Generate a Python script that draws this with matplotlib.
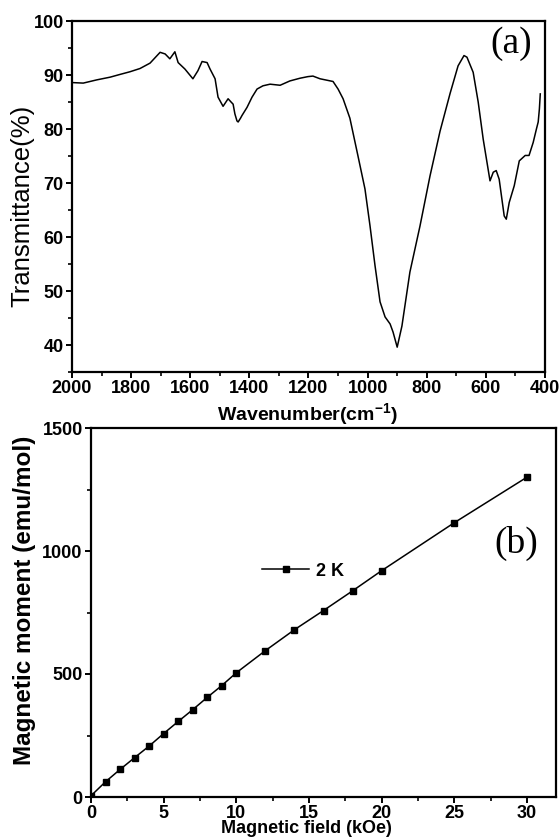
import matplotlib
matplotlib.use("Agg")
import matplotlib.pyplot as plt
from matplotlib.ticker import MultipleLocator

# ---- Panel (a): IR spectrum ----
wavenumber = [2000, 1962, 1916, 1871, 1838, 1804, 1770, 1736, 1702, 1685, 1669,
              1652, 1641, 1618, 1591, 1574, 1560, 1543, 1533, 1516, 1506, 1489,
              1472, 1462, 1455, 1449, 1442, 1438, 1430, 1425, 1408, 1391, 1374,
              1354, 1330, 1296, 1263, 1229, 1202, 1185, 1161, 1117, 1100, 1083,
              1060, 1033, 1009, 992, 975, 958, 941, 924, 914, 900, 884, 857,
              823, 789, 755, 721, 694, 674, 664, 643, 626, 609, 586, 575, 565,
              555, 538, 531, 521, 504, 487, 467, 454, 440, 429, 423, 419, 416]
transmittance = [88.6, 88.5, 89.1, 89.6, 90.1, 90.6, 91.2, 92.2, 94.2, 93.9, 93.0,
                 94.3, 92.3, 91.1, 89.3, 90.8, 92.5, 92.3, 91.1, 89.3, 85.9, 84.2,
                 85.6, 85.0, 84.6, 82.8, 81.5, 81.3, 82.0, 82.5, 84.0, 85.9, 87.4,
                 88.0, 88.3, 88.1, 88.9, 89.4, 89.7, 89.8, 89.3, 88.8, 87.4, 85.6,
                 82.0, 75.1, 68.9, 62.1, 54.7, 48.0, 45.2, 43.9, 42.4, 39.6, 43.5,
                 53.5, 62.0, 71.3, 79.6, 86.6, 91.7, 93.6, 93.3, 90.5, 85.0, 78.1,
                 70.4, 72.0, 72.3, 70.7, 63.9, 63.3, 66.4, 69.5, 74.1, 75.1, 75.1,
                 77.5, 80.0, 81.3, 83.7, 86.5]

# ---- Panel (b): magnetization ----
field = [0, 1, 2, 3, 4, 5, 6, 7, 8, 9, 10, 12, 14, 16, 18, 20, 25, 30]
moment = [5, 62, 112, 160, 207, 258, 307, 355, 405, 453, 505, 595, 680, 758,
          838, 920, 1115, 1300]

plt.rcParams['font.family'] = ['Liberation Sans', 'DejaVu Sans']
plt.rcParams['font.weight'] = 'bold'
plt.rcParams['mathtext.fontset'] = 'custom'
plt.rcParams['mathtext.bf'] = 'Liberation Sans:bold'
plt.rcParams['mathtext.rm'] = 'Liberation Sans:bold'

fig = plt.figure(figsize=(5.59, 8.39), dpi=100)

W, H = 559, 839
def rect(l, t, r, b):
    return [l / W, 1 - b / H, (r - l) / W, (b - t) / H]

TICK_FS = 13

# top panel: axes spans pixels x 72..545, y 21..372
ax1 = fig.add_axes(rect(72, 21, 545, 372))
ax1.plot(wavenumber, transmittance, color='black', lw=1.1)
ax1.set_xlim(2000, 400)
ax1.set_ylim(35, 100)
ax1.xaxis.set_major_locator(MultipleLocator(200))
ax1.xaxis.set_minor_locator(MultipleLocator(100))
ax1.yaxis.set_minor_locator(MultipleLocator(5))
ax1.set_yticks([40, 50, 60, 70, 80, 90, 100])
ax1.set_xlabel('Wavenumber(cm$^{-1}$)', fontsize=14, fontweight='bold')
ax1.xaxis.set_label_coords((307 - 72) / 473, (372 - 401) / 351)
ax1.set_ylabel('Transmittance(%)', fontsize=18.5, fontweight='normal')
ax1.yaxis.set_label_coords((34 - 72) / 473, (372 - 206) / 351)
ax1.text(532 / W, 1 - 26 / H, '(a)', transform=fig.transFigure, ha='right', va='top',
         fontsize=27, family='Liberation Serif', fontweight='normal')

# bottom panel: axes spans pixels x 91..556, y 428..797
ax2 = fig.add_axes(rect(91, 428, 556, 797))
ax2.plot(field, moment, color='black', lw=1.1, marker='s', markersize=5,
         label='2 K')
ax2.set_xlim(0, 32)
ax2.set_ylim(0, 1500)
ax2.xaxis.set_major_locator(MultipleLocator(5))
ax2.xaxis.set_minor_locator(MultipleLocator(2.5))
ax2.yaxis.set_major_locator(MultipleLocator(500))
ax2.yaxis.set_minor_locator(MultipleLocator(250))
ax2.set_xlabel('Magnetic field (kOe)', fontsize=13, fontweight='bold')
ax2.xaxis.set_label_coords((306 - 91) / 465, (797 - 820) / 369)
ax2.set_ylabel('Magnetic moment (emu/mol)', fontsize=17.5, fontweight='bold')
ax2.yaxis.set_label_coords((36 - 91) / 465, (797 - 600) / 369)
ax2.text(538 / W, 1 - 543 / H, '(b)', transform=fig.transFigure, ha='right', va='center',
         fontsize=27, family='Liberation Serif', fontweight='normal')
leg = ax2.legend(loc='center left', bbox_to_anchor=(0.368, 0.612), frameon=False,
                 borderpad=0, borderaxespad=0, handlelength=2.6, handletextpad=0.4,
                 prop={'weight': 'bold', 'size': TICK_FS})

for ax in (ax1, ax2):
    for s in ax.spines.values():
        s.set_linewidth(1.6)
    ax.tick_params(which='major', direction='out', length=4.5, width=1.4,
                   labelsize=TICK_FS, top=False, right=False, pad=1.5)
    ax.tick_params(which='minor', direction='out', length=3, width=1.2,
                   top=False, right=False)
    for lbl in ax.get_xticklabels() + ax.get_yticklabels():
        lbl.set_fontweight('bold')

fig.savefig('out.png', dpi=100)
